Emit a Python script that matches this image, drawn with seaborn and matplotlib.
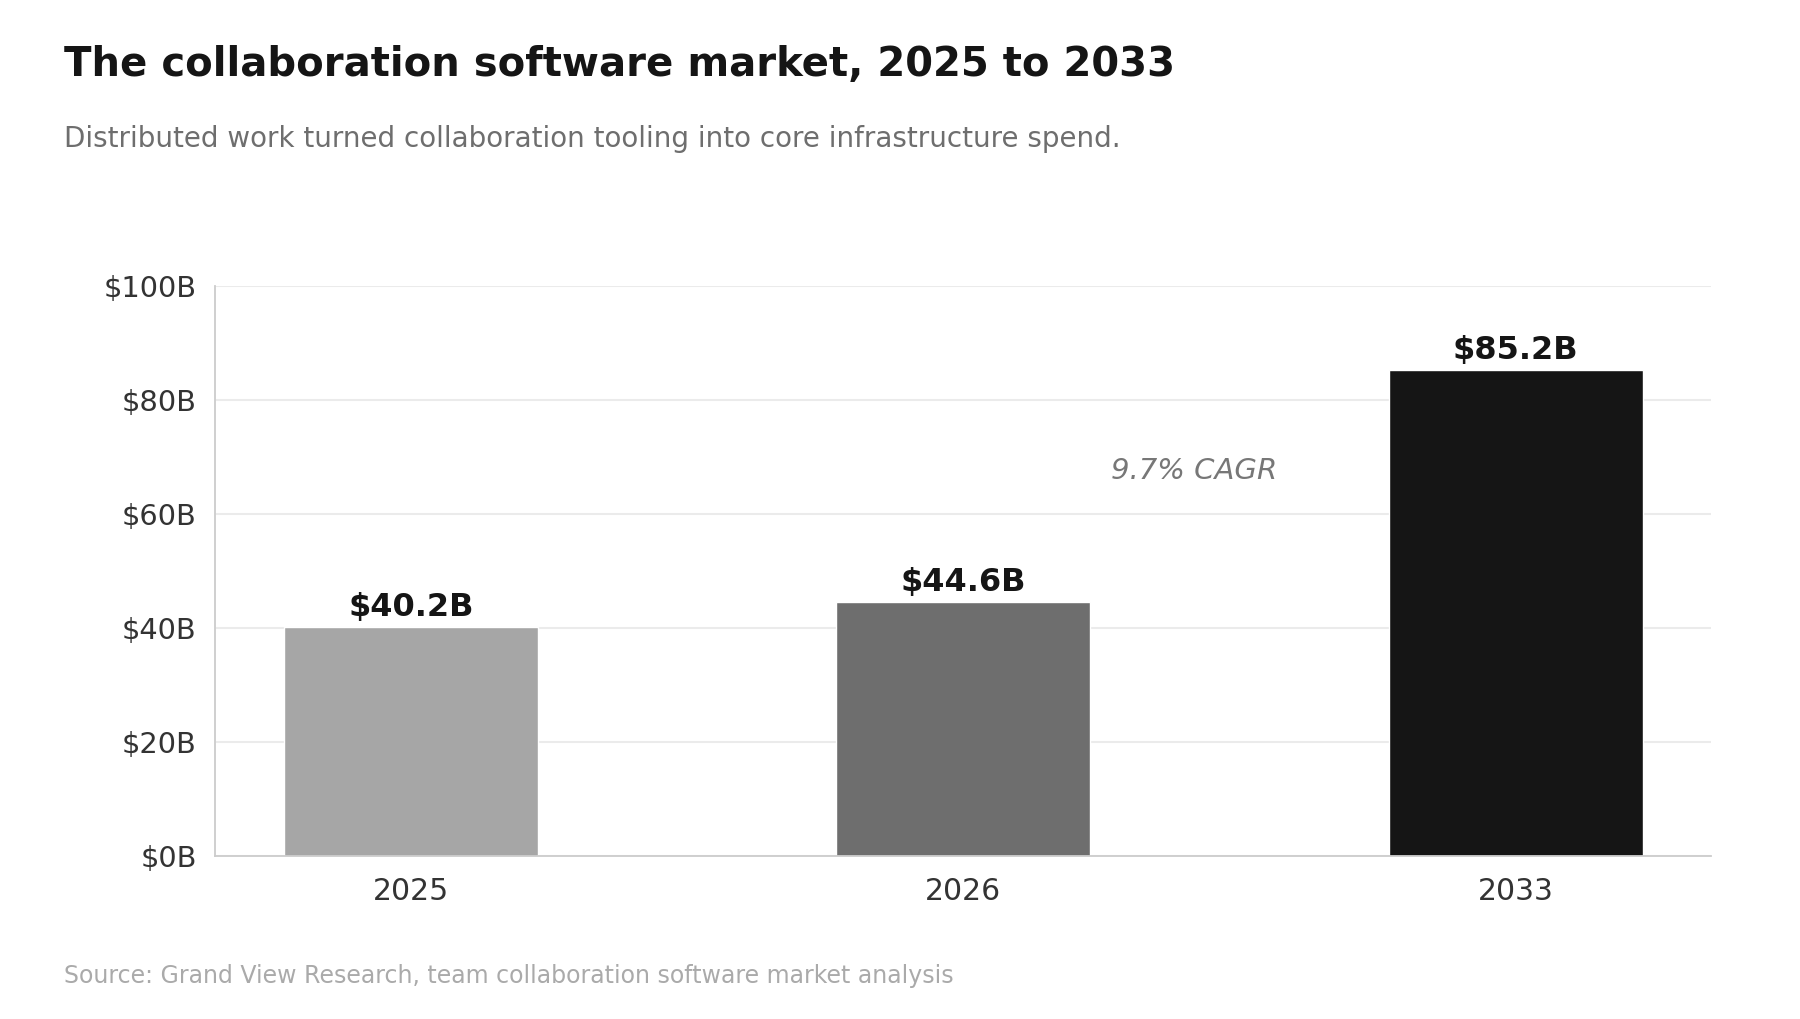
import matplotlib
matplotlib.use("Agg")
import matplotlib.pyplot as plt
import seaborn as sns
import pandas as pd

# data
years = ["2025", "2026", "2033"]
market_size = [40.2, 44.6, 85.2]
bar_labels = ["$40.2B", "$44.6B", "$85.2B"]
bar_colors = ["#a6a6a6", "#6e6e6e", "#151515"]
y_ticks = [0, 20, 40, 60, 80, 100]
y_tick_labels = ["$0B", "$20B", "$40B", "$60B", "$80B", "$100B"]
cagr_text = "9.7% CAGR"

df = pd.DataFrame({"Year": years, "Size": market_size})

sns.set_style("white")
plt.rcParams['font.family'] = ['DejaVu Sans']

fig = plt.figure(figsize=(18, 10.19), dpi=100)
ax = fig.add_axes([0.1193, 0.1595, 0.9504 - 0.1193, 0.7194 - 0.1595])

sns.barplot(data=df, x="Year", y="Size", hue="Year", palette=bar_colors,
            width=0.46, legend=False, ax=ax, saturation=1)

ax.set_ylim(0, 100)
ax.set_xlim(-0.355, 2.353)
ax.set_yticks(y_ticks)
ax.set_yticklabels(y_tick_labels)
ax.set_xlabel("")
ax.set_ylabel("")
ax.grid(axis="y", color="#ebebeb", linewidth=1.5)
ax.set_axisbelow(True)
for s in ["top", "right"]:
    ax.spines[s].set_visible(False)
for s in ["left", "bottom"]:
    ax.spines[s].set_color("#cccccc")
    ax.spines[s].set_linewidth(1.3)
ax.tick_params(axis="both", colors="#333333", length=7, width=1.2)
ax.tick_params(axis="x", labelsize=21.5, pad=8)
ax.tick_params(axis="y", labelsize=20.8, pad=6)

for i, (v, lab) in enumerate(zip(market_size, bar_labels)):
    ax.annotate(lab, (i, v), xytext=(0, 3), textcoords="offset points",
                ha="center", va="bottom", fontsize=23, fontweight="bold", color="#151515")

ax.text(1.418, 67.6, cagr_text, ha="center", va="center", fontsize=21,
        style="italic", color="#777777")

fig.text(0.0355, 0.936, "The collaboration software market, 2025 to 2033",
         fontsize=28.9, fontweight="bold", color="#151515", ha="left", va="center")
fig.text(0.0355, 0.864, "Distributed work turned collaboration tooling into core infrastructure spend.",
         fontsize=20, color="#6e6e6e", ha="left", va="center")
fig.text(0.0355, 0.0423, "Source: Grand View Research, team collaboration software market analysis",
         fontsize=17, color="#aaaaaa", ha="left", va="center")

fig.savefig("out.png", dpi=100)
